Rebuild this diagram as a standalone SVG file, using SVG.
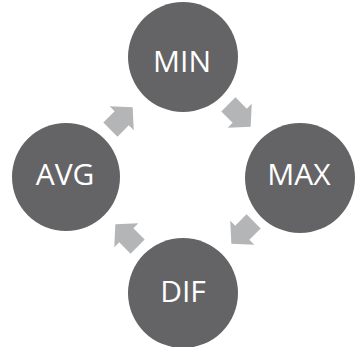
<svg xmlns="http://www.w3.org/2000/svg" width="357" height="347" viewBox="0 0 357 347">
<style>
.node circle{fill:#646466;}
.node text{fill:#ffffff;font-family:"Open Sans","DejaVu Sans",sans-serif;font-size:30px;text-anchor:middle;}
.arrow{fill:#b4b5b7;}
</style>
<defs>
<path id="blk" d="M-15,-10 L1,-10 L1,-17 L16.5,0 L1,17 L1,10 L-15,10 Z"/>
</defs>
<rect width="357" height="347" fill="#ffffff"/>
<g id="connectors">
<use href="#blk" class="arrow" transform="translate(121,119) rotate(-45)"/>
<use href="#blk" class="arrow" transform="translate(239,115) rotate(45)"/>
<use href="#blk" class="arrow" transform="translate(243,232) rotate(135)"/>
<use href="#blk" class="arrow" transform="translate(127,236) rotate(225)"/>
</g>
<g id="min" class="node"><circle cx="183" cy="57" r="55"/><text x="182" y="72">MIN</text></g>
<g id="max" class="node"><circle cx="300" cy="178" r="55"/><text x="299" y="185">MAX</text></g>
<g id="dif" class="node"><circle cx="183" cy="293" r="55"/><text x="183" y="302">DIF</text></g>
<g id="avg" class="node"><circle cx="66" cy="177" r="54"/><text x="65" y="185">AVG</text></g>
</svg>
